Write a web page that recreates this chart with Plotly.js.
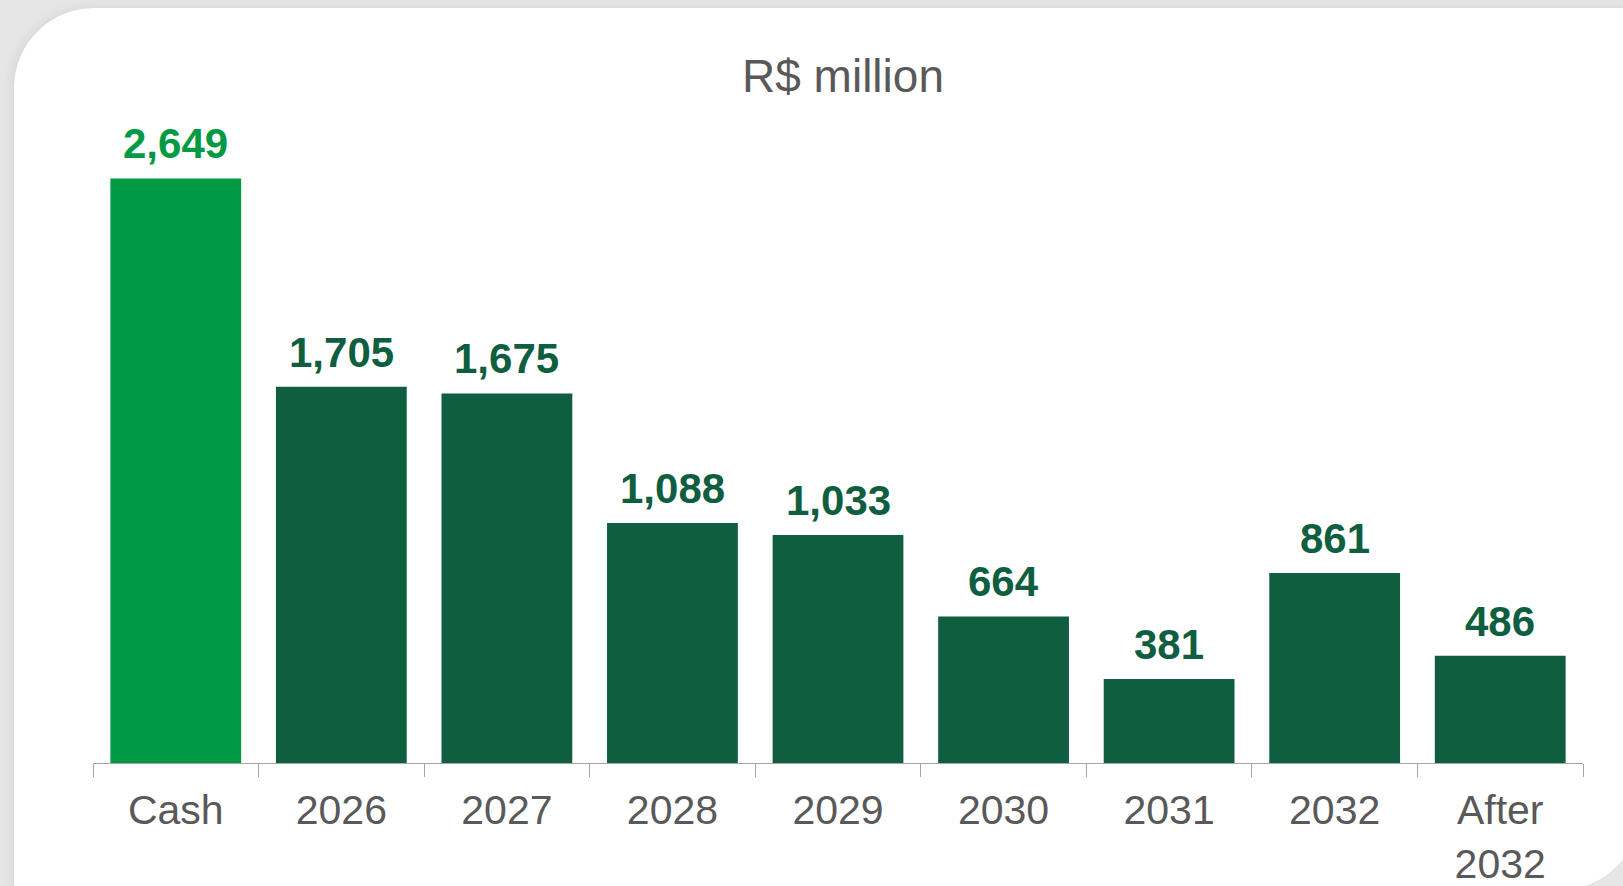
<!DOCTYPE html>
<html>
<head>
<meta charset="utf-8">
<script src="https://cdn.plot.ly/plotly-3.0.1.min.js"></script>
<style>
  html, body { margin: 0; padding: 0; width: 1623px; height: 886px; overflow: hidden; background: #e6e6e6; }
  #card { position: absolute; left: 14px; top: 8px; width: 1626px; height: 882px; background: #ffffff; border-radius: 80px 0 80px 0; box-shadow: -4px -2px 10px rgba(0,0,0,0.05); }
  #chart { position: absolute; left: 0; top: 0; width: 1623px; height: 886px; }
</style>
</head>
<body>
<div id="card"></div>
<div id="chart"></div>
<script>
// Data
const categories = ['Cash', '2026', '2027', '2028', '2029', '2030', '2031', '2032', 'After<br>2032'];
const values = [2649, 1705, 1675, 1088, 1033, 664, 381, 861, 486];
const chartTitle = 'R$ million';

// Styles
const CASH_COLOR = '#009a44';
const DEBT_COLOR = '#0e5e3f';
const TEXT_GRAY = '#595959';
const FONT = 'Arial, "Liberation Sans", sans-serif';

const barColors = categories.map((c, i) => i === 0 ? CASH_COLOR : DEBT_COLOR);

const trace = {
  type: 'bar',
  x: categories,
  y: values,
  marker: { color: barColors, line: { width: 0 } },
  hoverinfo: 'skip'
};

const annotations = categories.map((c, i) => ({
  x: i,
  y: values[i],
  xref: 'x',
  yref: 'y',
  text: values[i].toLocaleString('en-US'),
  showarrow: false,
  yanchor: 'bottom',
  xanchor: 'center',
  yshift: 9,
  font: { family: FONT, size: 42, color: barColors[i], weight: 'bold' }
}));

const layout = {
  width: 1623,
  height: 886,
  paper_bgcolor: 'rgba(0,0,0,0)',
  plot_bgcolor: 'rgba(0,0,0,0)',
  margin: { l: 93, r: 40, t: 101, b: 123 },
  showlegend: false,
  bargap: 0.21,
  title: {
    text: chartTitle,
    font: { family: FONT, size: 46, color: TEXT_GRAY },
    xref: 'container', x: 843 / 1623, xanchor: 'center',
    yref: 'container', y: 1 - 76 / 886, yanchor: 'middle'
  },
  xaxis: {
    type: 'category',
    range: [-0.5, categories.length - 0.5],
    autorange: false,
    showline: true,
    linecolor: '#a6a6a6',
    linewidth: 1,
    ticks: 'outside',
    tickson: 'boundaries',
    ticklen: 13,
    tickcolor: '#a6a6a6',
    tickwidth: 1,
    tickangle: 0,
    ticklabelstandoff: 11,
    showgrid: false,
    zeroline: false,
    tickfont: { family: FONT, size: 41, color: TEXT_GRAY },
    fixedrange: true
  },
  yaxis: {
    range: [0, 3000],
    autorange: false,
    visible: false,
    showgrid: false,
    zeroline: false,
    fixedrange: true
  },
  annotations: annotations
};

Plotly.newPlot('chart', [trace], layout, { displayModeBar: false, staticPlot: true });
</script>
</body>
</html>
